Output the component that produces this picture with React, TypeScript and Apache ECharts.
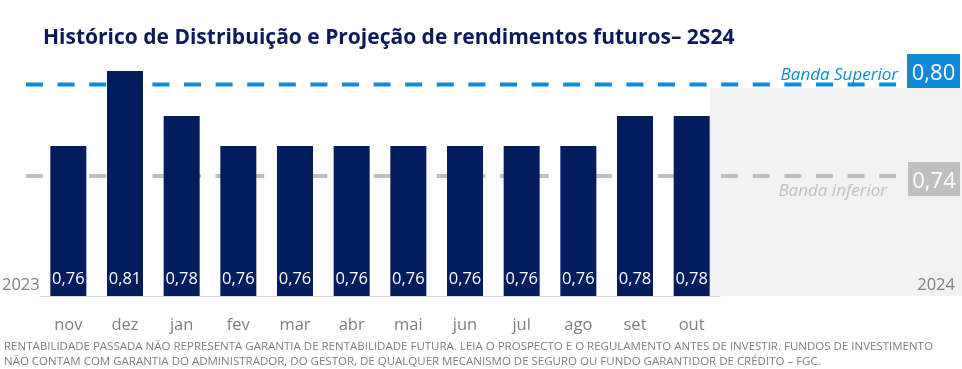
import React, { useEffect, useRef } from "react";
import * as echarts from "echarts";

const categories = ["nov", "dez", "jan", "fev", "mar", "abr", "mai", "jun", "jul", "ago", "set", "out"];
const values = [0.76, 0.81, 0.78, 0.76, 0.76, 0.76, 0.76, 0.76, 0.76, 0.76, 0.78, 0.78];
const upperBand = 0.8;
const lowerBand = 0.74;
const upperLabel = "Banda Superior";
const lowerLabel = "Banda inferior";
const yearStart = "2023";
const yearEnd = "2024";
const title = "Histórico de Distribuição e Projeção de rendimentos futuros– 2S24";
const footnote = [
  "RENTABILIDADE PASSADA NÃO REPRESENTA GARANTIA DE RENTABILIDADE FUTURA. LEIA O PROSPECTO E O REGULAMENTO ANTES DE INVESTIR. FUNDOS DE INVESTIMENTO",
  "NÃO CONTAM COM GARANTIA DO ADMINISTRADOR, DO GESTOR, DE QUALQUER MECANISMO DE SEGURO OU FUNDO GARANTIDOR DE CRÉDITO – FGC.",
];

const FONT = "'Open Sans', 'Noto Sans', sans-serif";
const fmt = (v: number) => v.toFixed(2).replace(".", ",");

export default function App() {
  const ref = useRef<HTMLDivElement>(null);
  useEffect(() => {
    if (!ref.current) return;
    const chart = echarts.init(ref.current, null, { renderer: "svg" });
    chart.setOption({
      animation: false,
      textStyle: { fontFamily: FONT },
      grid: { left: 40, right: 242, top: 26, bottom: 73 },
      xAxis: {
        type: "category",
        data: categories,
        axisLine: { lineStyle: { color: "#d9d9d9", width: 1 } },
        axisTick: { show: false },
        axisLabel: { color: "#7f7f7f", fontSize: 16.5, margin: 19, fontFamily: FONT },
      },
      yAxis: { type: "value", min: 0.66, max: 0.84, show: false },
      series: [
        {
          type: "bar",
          data: values,
          barWidth: 36,
          z: 5,
          itemStyle: { color: "#021c60" },
          label: {
            show: true,
            position: "insideBottom",
            distance: 10,
            color: "#ffffff",
            fontSize: 16.5,
            fontFamily: FONT,
            formatter: (p: any) => fmt(p.value),
          },
        },
      ],
    });

    const yU = chart.convertToPixel({ yAxisIndex: 0 }, upperBand) as number;
    const yL = chart.convertToPixel({ yAxisIndex: 0 }, lowerBand) as number;
    const yBase = chart.convertToPixel({ yAxisIndex: 0 }, 0.66) as number;
    const xLast = chart.convertToPixel({ xAxisIndex: 0 }, categories[categories.length - 1]) as number;
    const bgLeft = xLast + 18;

    chart.setOption({
      graphic: [
        {
          type: "rect",
          z: 0,
          silent: true,
          shape: { x: bgLeft, y: yU + 2, width: 962 - bgLeft, height: yBase - yU - 2 },
          style: { fill: "#f2f2f2" },
        },
        {
          type: "line",
          z: 1,
          shape: { x1: 26, y1: yU - 1.5, x2: 896, y2: yU - 1.5 },
          style: { stroke: "#0f8ad8", lineWidth: 4, lineDash: [17, 14.6] },
        },
        {
          type: "line",
          z: 1,
          shape: { x1: 26, y1: yL, x2: 896, y2: yL },
          style: { stroke: "#bfbfbf", lineWidth: 4, lineDash: [17, 14.6] },
        },
        {
          type: "rect",
          z: 3,
          shape: { x: 907, y: yU - 32, width: 53, height: 34 },
          style: { fill: "#0f8ad8" },
        },
        {
          type: "text",
          z: 4,
          x: 933.5,
          y: yU - 15,
          style: { text: fmt(upperBand), fill: "#ffffff", font: `22px ${FONT}`, align: "center", verticalAlign: "middle" },
        },
        {
          type: "rect",
          z: 3,
          shape: { x: 908, y: yL - 14, width: 52, height: 34 },
          style: { fill: "#bfbfbf" },
        },
        {
          type: "text",
          z: 4,
          x: 934,
          y: yL + 3,
          style: { text: fmt(lowerBand), fill: "#ffffff", font: `22px ${FONT}`, align: "center", verticalAlign: "middle" },
        },
        {
          type: "text",
          z: 4,
          x: 898,
          y: yU - 13,
          style: { text: upperLabel, fill: "#0f8ad8", font: `italic 17px ${FONT}`, align: "right", verticalAlign: "middle" },
        },
        {
          type: "text",
          z: 4,
          x: 887,
          y: yL + 13,
          style: { text: lowerLabel, fill: "#bfbfbf", font: `italic 17px ${FONT}`, align: "right", verticalAlign: "middle" },
        },
        {
          type: "text",
          z: 4,
          x: 2,
          y: 283,
          style: { text: yearStart, fill: "#7f7f7f", font: `16.5px ${FONT}`, align: "left", verticalAlign: "middle" },
        },
        {
          type: "text",
          z: 4,
          x: 955,
          y: 283,
          style: { text: yearEnd, fill: "#7f7f7f", font: `16.5px ${FONT}`, align: "right", verticalAlign: "middle" },
        },
        {
          type: "text",
          z: 4,
          x: 43,
          y: 36,
          style: { text: title, fill: "#0c1a5b", font: `bold 21px ${FONT}`, align: "left", verticalAlign: "middle" },
        },
        {
          type: "text",
          z: 4,
          x: 4,
          y: 345,
          style: { text: footnote[0], fill: "#7f7f7f", font: `11.5px ${FONT}`, align: "left", verticalAlign: "middle" },
        },
        {
          type: "text",
          z: 4,
          x: 4,
          y: 360,
          style: { text: footnote[1], fill: "#7f7f7f", font: `11.5px ${FONT}`, align: "left", verticalAlign: "middle" },
        },
      ],
    });
    return () => chart.dispose();
  }, []);
  return <div ref={ref} style={{ position: "fixed", left: 0, top: 0, width: 962, height: 369 }} />;
}
